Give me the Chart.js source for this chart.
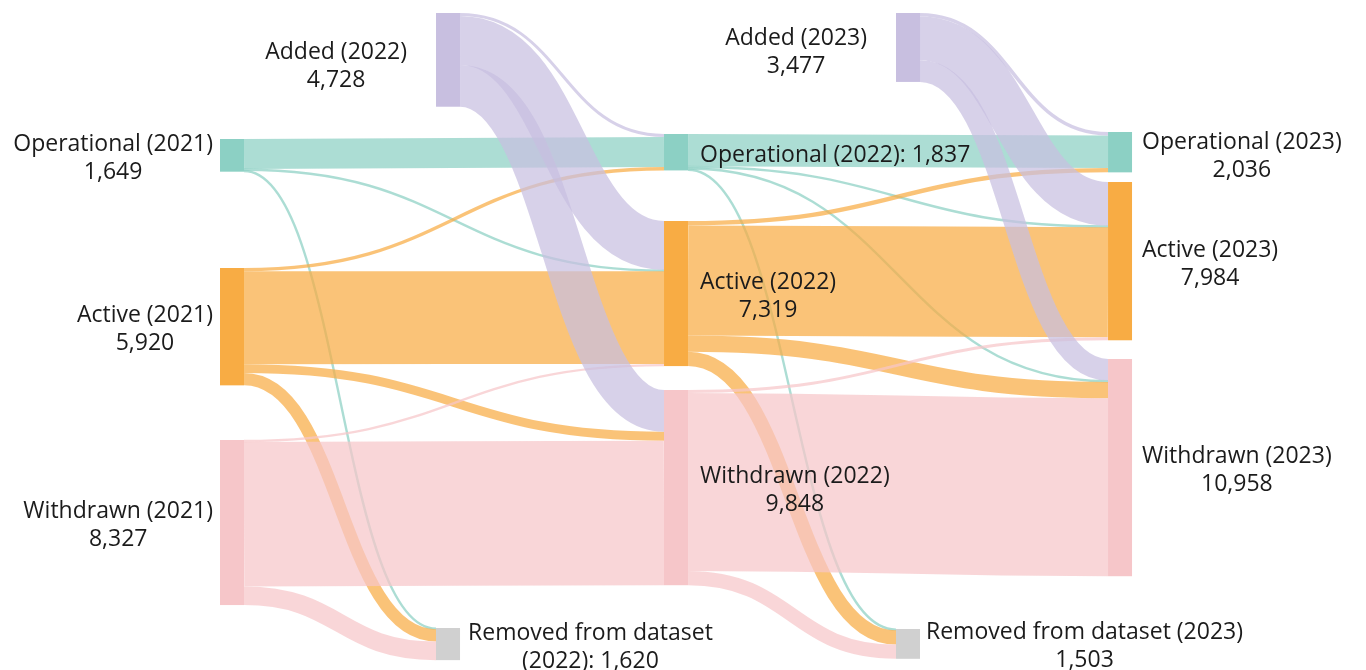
<!DOCTYPE html>
<html>
<head>
<meta charset="utf-8">
<title>Status flows 2021-2023</title>
<script src="https://cdn.jsdelivr.net/npm/chart.js@4.4.1/dist/chart.umd.min.js"></script>
<style>
  html, body { margin: 0; padding: 0; background: #fff; }
  #wrap { width: 1366px; height: 670px; position: relative; }
</style>
</head>
<body>
<div id="wrap"><canvas id="sankey"></canvas></div>
<script>
/* ── data ── */
const nodeNames = [
  "Operational (2021)", "Active (2021)", "Withdrawn (2021)",
  "Added (2022)", "Removed from dataset (2022)",
  "Operational (2022)", "Active (2022)", "Withdrawn (2022)",
  "Added (2023)", "Removed from dataset (2023)",
  "Operational (2023)", "Active (2023)", "Withdrawn (2023)",
];
const nodeKind = [
  "op", "act", "wd",
  "add", "rem",
  "op", "act", "wd",
  "add", "rem",
  "op", "act", "wd",
];

// links: source index -> target index, value
const linkSource = [0, 0, 0,  1, 1, 1, 1,  2, 2, 2,  3, 3, 3,
                    5, 5, 5, 5,  6, 6, 6, 6,  7, 7, 7,  8, 8, 8];
const linkTarget = [5, 6, 4,  5, 6, 7, 4,  6, 7, 4,  5, 6, 7,
                    10, 11, 12, 9,  10, 11, 12, 9,  11, 12, 9,  10, 11, 12];
const linkValue  = [1517, 70, 62,  170, 4680, 450, 620,  100, 7289, 938,  150, 2469, 2109,
                    1632, 70, 70, 65,  224, 5555, 820, 720,  150, 8980, 718,  180, 2209, 1088];

/* ── layout (axis units) ── */
const nodeColumn = [0, 0, 0, 0.973, 0.973, 2, 2, 2, 3.045, 3.045, 4, 4, 4];
const nodeStart  = [7012, 13520, 22197, 656, 31682, 6760, 11149, 19675, 656, 31732, 6659, 9182, 18111];

/* ── styles ── */
const KIND_COLOR = {
  op:  [140, 208, 196],
  act: [248, 172, 68],
  wd:  [246, 198, 201],
  add: [200, 191, 224],
  rem: [208, 208, 208],
};
const NODE_WIDTH = 24;
const LINK_ALPHA = 0.72;
const MIN_LINK_PX = 2.4;
const FONT = '23px "Open Sans", "Noto Sans", sans-serif';
const LINE_H = 28;
const LABEL_DY = 3;

// label side, gap to node (px), extra vertical shift, line templates
const nodeLabel = [
  ["left", 7, 0,  ["{name}", "{value}"]],
  ["left", 7, 0,  ["{name}", "{value}"]],
  ["left", 7, 0,  ["{name}", "{value}"]],
  ["left", 29, 4, ["{name}", "{value}"]],
  ["right", 8, 0, ["Removed from dataset", "(2022): {value}"]],
  ["right", 12, 0, ["{name}: {value}"]],
  ["right", 12, 0, ["{name}", "{value}"]],
  ["right", 12, 0, ["{name}", "{value}"]],
  ["left", 29, 2, ["{name}", "{value}"]],
  ["right", 6, 0, ["{name}", "{value}"]],
  ["right", 10, 1, ["{name}", "{value}"]],
  ["right", 10, 0, ["{name}", "{value}"]],
  ["right", 10, 0, ["{name}", "{value}"]],
];

/* ── node totals from links ── */
const nodeValue = nodeNames.map((_, i) => {
  let inn = 0, out = 0;
  linkValue.forEach((v, k) => {
    if (linkTarget[k] === i) inn += v;
    if (linkSource[k] === i) out += v;
  });
  return Math.max(inn, out);
});

function rgba(c, a) {
  return `rgba(${c[0]},${c[1]},${c[2]},${a})`;
}

/* ── sankey plugin: draws nodes + links through chart scales ── */
const sankeyPlugin = {
  id: "sankeyDraw",
  afterDatasetsDraw(chart) {
    const { ctx, scales: { x, y } } = chart;
    const h = (v) => y.getPixelForValue(v) - y.getPixelForValue(0);

    // offsets within nodes: outgoing sorted by target, incoming by source
    const outOff = new Array(linkValue.length);
    const inOff  = new Array(linkValue.length);
    nodeNames.forEach((_, i) => {
      const outs = linkValue.map((_, k) => k).filter((k) => linkSource[k] === i)
        .sort((a, b) => nodeStart[linkTarget[a]] - nodeStart[linkTarget[b]]);
      let acc = 0;
      outs.forEach((k) => { outOff[k] = acc; acc += linkValue[k]; });
      const ins = linkValue.map((_, k) => k).filter((k) => linkTarget[k] === i)
        .sort((a, b) => nodeStart[linkSource[a]] - nodeStart[linkSource[b]]);
      acc = 0;
      ins.forEach((k) => { inOff[k] = acc; acc += linkValue[k]; });
    });

    ctx.save();

    /* links */
    linkValue.forEach((v, k) => {
      const s = linkSource[k], t = linkTarget[k];
      const x0 = x.getPixelForValue(nodeColumn[s]) + NODE_WIDTH;
      const x1 = x.getPixelForValue(nodeColumn[t]);
      const y0 = y.getPixelForValue(nodeStart[s] + outOff[k] + v / 2);
      const y1 = y.getPixelForValue(nodeStart[t] + inOff[k] + v / 2);
      const xm = (x0 + x1) / 2;
      ctx.beginPath();
      ctx.moveTo(x0, y0);
      ctx.bezierCurveTo(xm, y0, xm, y1, x1, y1);
      ctx.lineWidth = Math.max(MIN_LINK_PX, h(v));
      ctx.lineCap = "butt";
      ctx.strokeStyle = rgba(KIND_COLOR[nodeKind[s]], LINK_ALPHA);
      ctx.stroke();
    });

    /* nodes */
    nodeNames.forEach((_, i) => {
      const nx = x.getPixelForValue(nodeColumn[i]);
      const ny = y.getPixelForValue(nodeStart[i]);
      ctx.fillStyle = rgba(KIND_COLOR[nodeKind[i]], 1);
      ctx.fillRect(nx, ny, NODE_WIDTH, h(nodeValue[i]));
    });

    /* labels */
    ctx.font = FONT;
    ctx.fillStyle = "#1b1b1b";
    ctx.textBaseline = "middle";
    ctx.textAlign = "center";
    nodeNames.forEach((name, i) => {
      const [side, gap, dy, tpl] = nodeLabel[i];
      const lines = tpl.map((l) =>
        l.replace("{name}", name).replace("{value}", nodeValue[i].toLocaleString("en-US"))
      );
      const wMax = Math.max(...lines.map((l) => ctx.measureText(l).width));
      const nx = x.getPixelForValue(nodeColumn[i]);
      const cy = y.getPixelForValue(nodeStart[i] + nodeValue[i] / 2) + LABEL_DY + dy;
      const cx = side === "left"
        ? nx - gap - wMax / 2
        : nx + NODE_WIDTH + gap + wMax / 2;
      const top = cy - ((lines.length - 1) * LINE_H) / 2;
      lines.forEach((l, j) => ctx.fillText(l, cx, top + j * LINE_H));
    });

    ctx.restore();
  },
};

/* ── chart ── */
new Chart(document.getElementById("sankey"), {
  type: "scatter",
  data: { datasets: [{ data: [], pointRadius: 0 }] },
  options: {
    responsive: true,
    maintainAspectRatio: false,
    animation: false,
    layout: { padding: 0 },
    plugins: { legend: { display: false }, tooltip: { enabled: false } },
    scales: {
      x: { type: "linear", min: -0.991, max: 5.162, display: false },
      y: { type: "linear", min: 0, max: 33800, reverse: true, display: false },
    },
  },
  plugins: [sankeyPlugin],
});
</script>
</body>
</html>
